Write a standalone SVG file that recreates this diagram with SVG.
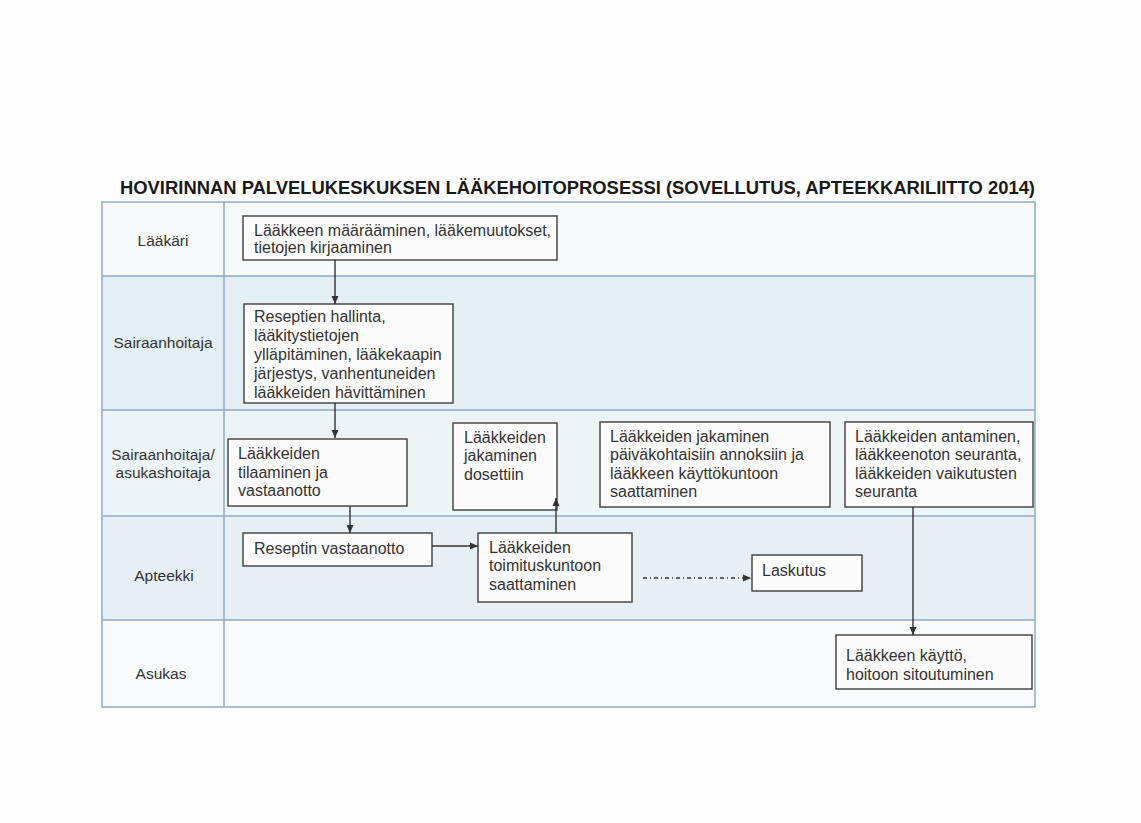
<svg xmlns="http://www.w3.org/2000/svg" width="1141" height="823" viewBox="0 0 1141 823">
<style>
text{font-family:"Liberation Sans",Arial,sans-serif;fill:#333}
.t{font-size:16px}
.lab{font-size:15.5px;text-anchor:middle}
.title{font-size:18px;font-weight:bold;fill:#1a1a1a}
.box{fill:#fbfbfb;stroke:#4a4a4a;stroke-width:1.5}
.grid{stroke:#8eaac8;stroke-width:1.5;fill:none}
.con{stroke:#333;stroke-width:1.4;fill:none}
</style>
<defs>
<marker id="ah" markerWidth="8" markerHeight="8" refX="8" refY="4" orient="auto" markerUnits="userSpaceOnUse">
<path d="M0,0.5 L8,4 L0,7.5 z" fill="#333"/>
</marker>
</defs>
<rect width="1141" height="823" fill="#fdfdfd"/>
<text class="title" x="120" y="194" textLength="915" lengthAdjust="spacingAndGlyphs">HOVIRINNAN PALVELUKESKUKSEN LÄÄKEHOITOPROSESSI (SOVELLUTUS, APTEEKKARILIITTO 2014)</text>
<g id="lanes">
<rect x="102" y="202" width="933" height="74" fill="#f7fafb"/>
<rect x="102" y="276" width="933" height="134" fill="#e4eff3"/>
<rect x="102" y="410" width="933" height="106" fill="#edf4f7"/>
<rect x="102" y="516" width="933" height="104" fill="#e6f0f4"/>
<rect x="102" y="620" width="933" height="87" fill="#f8fafb"/>
<rect class="grid" x="102" y="202" width="933" height="505"/>
<line class="grid" x1="224" y1="202" x2="224" y2="707"/>
<line class="grid" x1="102" y1="276" x2="1035" y2="276"/>
<line class="grid" x1="102" y1="410" x2="1035" y2="410"/>
<line class="grid" x1="102" y1="516" x2="1035" y2="516"/>
<line class="grid" x1="102" y1="620" x2="1035" y2="620"/>
<text class="lab" x="163" y="246">Lääkäri</text>
<text class="lab" x="163" y="348">Sairaanhoitaja</text>
<text class="lab" x="163" y="460">Sairaanhoitaja/</text>
<text class="lab" x="163" y="478">asukashoitaja</text>
<text class="lab" x="164" y="581">Apteekki</text>
<text class="lab" x="161" y="679">Asukas</text>
</g>
<g id="n1">
<rect class="box" x="243" y="216" width="314" height="44"/>
<text class="t" x="254" y="236">Lääkkeen määrääminen, lääkemuutokset,</text>
<text class="t" x="254" y="253">tietojen kirjaaminen</text>
</g>
<g id="n2">
<rect class="box" x="244" y="304" width="209" height="99"/>
<text class="t" x="254" y="322">Reseptien hallinta,</text>
<text class="t" x="254" y="341">lääkitystietojen</text>
<text class="t" x="254" y="360">ylläpitäminen, lääkekaapin</text>
<text class="t" x="254" y="379">järjestys, vanhentuneiden</text>
<text class="t" x="254" y="398">lääkkeiden hävittäminen</text>
</g>
<g id="n3">
<rect class="box" x="228" y="439" width="179" height="67"/>
<text class="t" x="238" y="459">Lääkkeiden</text>
<text class="t" x="238" y="478">tilaaminen ja</text>
<text class="t" x="238" y="496">vastaanotto</text>
</g>
<g id="n4">
<rect class="box" x="453" y="423" width="104" height="87"/>
<text class="t" x="464" y="443">Lääkkeiden</text>
<text class="t" x="464" y="461">jakaminen</text>
<text class="t" x="464" y="480">dosettiin</text>
</g>
<g id="n5">
<rect class="box" x="600" y="422" width="230" height="85"/>
<text class="t" x="610" y="442">Lääkkeiden jakaminen</text>
<text class="t" x="610" y="460">päiväkohtaisiin annoksiin ja</text>
<text class="t" x="610" y="479">lääkkeen käyttökuntoon</text>
<text class="t" x="610" y="497">saattaminen</text>
</g>
<g id="n6">
<rect class="box" x="845" y="422" width="188" height="85"/>
<text class="t" x="855" y="442">Lääkkeiden antaminen,</text>
<text class="t" x="855" y="460">lääkkeenoton seuranta,</text>
<text class="t" x="855" y="479">lääkkeiden vaikutusten</text>
<text class="t" x="855" y="497">seuranta</text>
</g>
<g id="n7">
<rect class="box" x="243" y="533" width="189" height="33"/>
<text class="t" x="254" y="554">Reseptin vastaanotto</text>
</g>
<g id="n8">
<rect class="box" x="478" y="533" width="154" height="69"/>
<text class="t" x="489" y="553">Lääkkeiden</text>
<text class="t" x="489" y="571">toimituskuntoon</text>
<text class="t" x="489" y="590">saattaminen</text>
</g>
<g id="n9">
<rect class="box" x="752" y="555" width="110" height="36"/>
<text class="t" x="762" y="576">Laskutus</text>
</g>
<g id="n10">
<rect class="box" x="836" y="635" width="196" height="54"/>
<text class="t" x="846" y="661">Lääkkeen käyttö,</text>
<text class="t" x="846" y="680">hoitoon sitoutuminen</text>
</g>
<g id="connectors">
<line class="con" x1="335" y1="260" x2="335" y2="304" marker-end="url(#ah)"/>
<line class="con" x1="335" y1="403" x2="335" y2="438" marker-end="url(#ah)"/>
<line class="con" x1="350" y1="506" x2="350" y2="533" marker-end="url(#ah)"/>
<line class="con" x1="432" y1="546" x2="478" y2="546" marker-end="url(#ah)"/>
<line class="con" x1="556" y1="533" x2="556" y2="498" marker-end="url(#ah)"/>
<line class="con" x1="643" y1="578" x2="751" y2="578" stroke-dasharray="4 3 1 3" marker-end="url(#ah)"/>
<line class="con" x1="913" y1="507" x2="913" y2="635" marker-end="url(#ah)"/>
</g>
</svg>
